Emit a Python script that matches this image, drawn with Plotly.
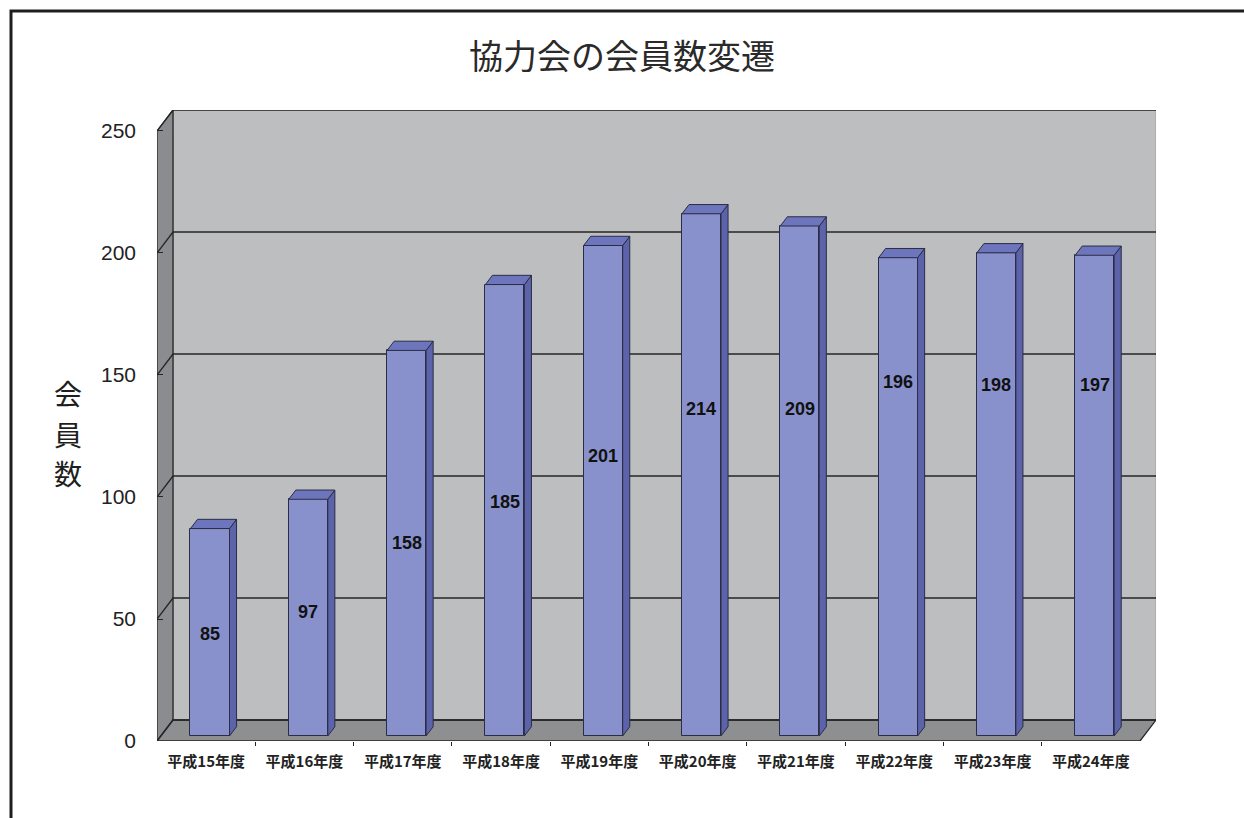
import plotly.graph_objects as go

# 協力会の会員数（年度別）
years = ["平成15年度", "平成16年度", "平成17年度", "平成18年度", "平成19年度",
         "平成20年度", "平成21年度", "平成22年度", "平成23年度", "平成24年度"]
members = [85, 97, 158, 185, 201, 214, 209, 196, 198, 197]
y_ticks = [0, 50, 100, 150, 200, 250]

# hand-placed heights of the value labels inside the bars
label_heights = [44, 53, 81, 98, 117, 136, 136, 147, 146, 146]

# --- pseudo-3D box geometry (axis units) ---
W, H = 1244, 818
PLOT_L, PLOT_R, PLOT_T, PLOT_B = 157, 1156, 110, 741
DX = 0.163          # wall depth, horizontal (category units)
DY = 8.6            # wall depth, vertical (value units)
YMAX = 250
F0, F1 = 0.24, 0.68  # bar front / back as fraction of the box depth
BAR_W = 0.397

n = len(years)
x_lo, x_hi = -0.5, n - 0.5

WALL = "#bdbec0"
SIDE_WALL = "#8b8c8f"
FLOOR = "#8e8f91"
EDGE = "#262626"
BAR_FRONT = "#8991cd"
BAR_SIDE = "#5c63aa"
BAR_TOP = "#6d75bd"
BAR_EDGE = "#2b2d45"


def path(points):
    return "M " + " L ".join(f"{x},{y}" for x, y in points) + " Z"


shapes = []
# back wall
shapes.append(dict(type="path", xref="x", yref="y", layer="below",
                   path=path([(x_lo + DX, DY), (x_hi + DX, DY),
                              (x_hi + DX, YMAX + DY), (x_lo + DX, YMAX + DY)]),
                   fillcolor=WALL, line=dict(color="#9a9b9d", width=1)))
# left side wall
shapes.append(dict(type="path", xref="x", yref="y", layer="below",
                   path=path([(x_lo, 0), (x_lo, YMAX), (x_lo + DX, YMAX + DY), (x_lo + DX, DY)]),
                   fillcolor=SIDE_WALL, line=dict(color=EDGE, width=1.3)))
# floor
shapes.append(dict(type="path", xref="x", yref="y", layer="below",
                   path=path([(x_lo, 0), (x_hi, 0), (x_hi + DX, DY), (x_lo + DX, DY)]),
                   fillcolor=FLOOR, line=dict(color=EDGE, width=1.3)))
# gridlines running across the side wall and the back wall
for t in y_ticks:
    shapes.append(dict(type="path", xref="x", yref="y", layer="below",
                       path=f"M {x_lo},{t} L {x_lo + DX},{t + DY} L {x_hi + DX},{t + DY}",
                       line=dict(color=EDGE, width=1.3)))


def px_to_paper(px, py):
    return (px - PLOT_L) / (PLOT_R - PLOT_L), (PLOT_B - py) / (PLOT_B - PLOT_T)


# outer frame (top and left edges)
fx0, fy0 = px_to_paper(11, 818)
fx1, fy1 = px_to_paper(1244, 11)
shapes.append(dict(type="path", xref="paper", yref="paper",
                   path=f"M {fx0},{fy0} L {fx0},{fy1} L {fx1},{fy1}",
                   line=dict(color="#1e1e1e", width=3)))

# bars
base = F0 * DY
bx = [i + F0 * DX for i in range(n)]
ddx = (F1 - F0) * DX
ddy = (F1 - F0) * DY

side_x, side_y, top_x, top_y = [], [], [], []
for xc, v in zip(bx, members):
    x0, x1 = xc - BAR_W / 2, xc + BAR_W / 2
    side_x += [x1, x1, x1 + ddx, x1 + ddx, x1, None]
    side_y += [base, v + base, v + base + ddy, base + ddy, base, None]
    top_x += [x0, x1, x1 + ddx, x0 + ddx, x0, None]
    top_y += [v + base, v + base, v + base + ddy, v + base + ddy, v + base, None]

fig = go.Figure()
fig.add_trace(go.Bar(x=bx, y=members, base=base, width=BAR_W,
                     marker=dict(color=BAR_FRONT, line=dict(color=BAR_EDGE, width=1)),
                     hoverinfo="skip", showlegend=False))
fig.add_trace(go.Scatter(x=side_x, y=side_y, mode="lines", fill="toself",
                         fillcolor=BAR_SIDE, line=dict(color=BAR_EDGE, width=1),
                         hoverinfo="skip", showlegend=False))
fig.add_trace(go.Scatter(x=top_x, y=top_y, mode="lines", fill="toself",
                         fillcolor=BAR_TOP, line=dict(color=BAR_EDGE, width=1),
                         hoverinfo="skip", showlegend=False))

annotations = []
for xc, v, ly in zip(bx, members, label_heights):
    annotations.append(dict(x=xc, y=ly, xref="x", yref="y", text=str(v), showarrow=False,
                            font=dict(family="Liberation Sans, Arial, sans-serif",
                                      size=18, color="#111111", weight="bold")))

# vertical axis title, one character per line
for ch, py in zip("会員数", [393, 434, 473]):
    ax_, ay_ = px_to_paper(68, py)
    annotations.append(dict(x=ax_, y=ay_, xref="paper", yref="paper", text=ch,
                            showarrow=False, xanchor="center", yanchor="middle",
                            font=dict(family="Noto Sans CJK JP", size=28, color="#1e1e1e")))

fig.update_layout(
    width=W, height=H,
    margin=dict(l=PLOT_L, r=W - PLOT_R, t=PLOT_T, b=H - PLOT_B),
    paper_bgcolor="white", plot_bgcolor="white",
    title=dict(text="協力会の会員数変遷", x=0.5, xanchor="center",
               xref="container", y=1 - 57 / H, yanchor="middle", yref="container",
               font=dict(family="Noto Sans CJK JP", size=34, color="#2a2a2a")),
    xaxis=dict(range=[x_lo, x_hi + DX], showgrid=False, zeroline=False, showline=False,
               tickmode="array", tickvals=list(range(n)), ticktext=years, ticks="",
               ticklabelstandoff=10,
               tickfont=dict(family="Noto Sans CJK JP", size=15, color="#222222",
                             weight="bold"),
               minor=dict(tickmode="array", tickvals=[i + 0.5 for i in range(n - 1)],
                          ticks="outside", ticklen=4, tickcolor=EDGE, showgrid=False),
               fixedrange=True),
    yaxis=dict(range=[0, YMAX + DY], showgrid=False, zeroline=False, showline=False,
               tickmode="array", tickvals=y_ticks, ticks="inside", ticklen=6,
               tickcolor=EDGE, ticklabelstandoff=20,
               tickfont=dict(family="Liberation Sans, Arial, sans-serif", size=21,
                             color="#222222"),
               fixedrange=True),
    shapes=shapes,
    annotations=annotations,
    bargap=0,
)

fig.write_html("out.html")
